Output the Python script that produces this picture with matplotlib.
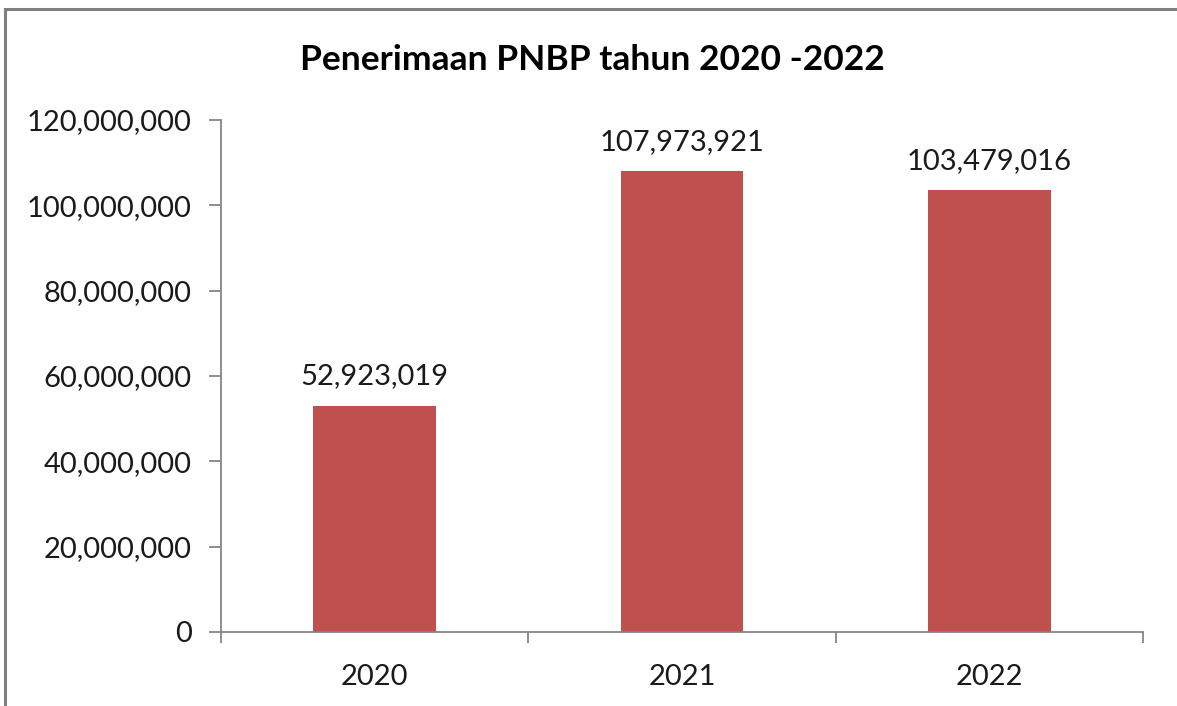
import numpy as np
import matplotlib.pyplot as plt
from matplotlib.patches import Rectangle
from matplotlib.ticker import FuncFormatter, FixedLocator

#---------------------------------------------------------------------#
years = ["2020", "2021", "2022"]
pnbp = [52923019, 107973921, 103479016]
yticks = [0, 20000000, 40000000, 60000000, 80000000, 100000000, 120000000]
#---------------------------------------------------------------------#

plt.rcParams['font.family'] = ['Lato', 'DejaVu Sans']

fig = plt.figure(figsize=(11.77, 7.06), dpi=100)
ax = fig.add_axes([221/1177, 1 - 632/706, (1143 - 221)/1177, (632 - 120)/706])

grey = "#868686"
bar_color = "#C0504D"

x = np.arange(len(years))
bars = ax.bar(x, pnbp, width=0.4, color=bar_color, zorder=2)

# labels au-dessus des barres
for b, v in zip(bars, pnbp):
    ax.annotate(f"{v:,}", (b.get_x() + b.get_width()/2, v),
                xytext=(0, 12), textcoords="offset points",
                ha="center", va="bottom", fontsize=21, color="#1a1a1a")

ax.set_xlim(-0.5, len(years) - 0.5)
ax.set_ylim(0, 120000000)
ax.set_yticks(yticks)
ax.yaxis.set_major_formatter(FuncFormatter(lambda v, p: f"{int(v):,}"))

ax.set_xticks(x)
ax.set_xticklabels(years)
ax.xaxis.set_minor_locator(FixedLocator(np.arange(-0.5, len(years), 1.0)))
ax.tick_params(axis="x", which="major", length=0, pad=23, labelsize=21, labelcolor="#1a1a1a")
ax.tick_params(axis="x", which="minor", length=8, width=1.3, color=grey, direction="out")
ax.tick_params(axis="y", length=9, width=1.3, color=grey, pad=12, labelsize=21, labelcolor="#1a1a1a")

for s in ["top", "right"]:
    ax.spines[s].set_visible(False)
for s in ["left", "bottom"]:
    ax.spines[s].set_color(grey)
    ax.spines[s].set_linewidth(1.3)

fig.text(592/1177, 1 - 60/706, "Penerimaan PNBP tahun 2020 -2022",
         ha="center", va="center", fontsize=25.5, fontweight="bold", color="black")

# cadre de la figure
fig.patches.append(Rectangle((5/1177, -0.1), 1.2, 1 - 9/706 + 0.1,
                             transform=fig.transFigure, fill=False,
                             edgecolor="#7f7f7f", linewidth=2.2))

fig.savefig("out.png", dpi=100)
